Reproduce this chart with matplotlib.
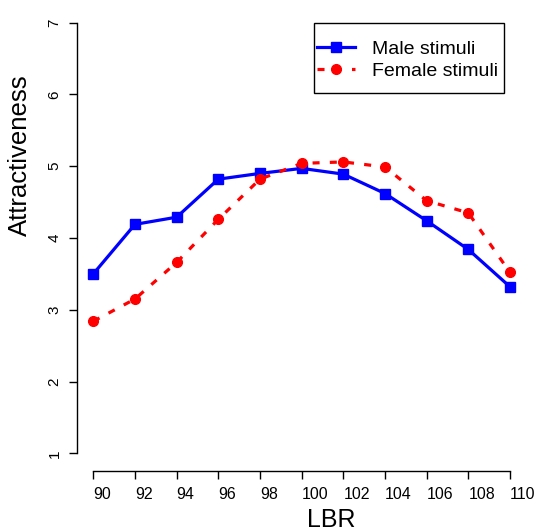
import numpy as np
import matplotlib
matplotlib.use("Agg")
import matplotlib.pyplot as plt
from matplotlib.patches import Rectangle

#-----------------------------------------------------------
# data
lbr = [90, 92, 94, 96, 98, 100, 102, 104, 106, 108, 110]
male = [3.50, 4.19, 4.29, 4.82, 4.90, 4.97, 4.89, 4.62, 4.24, 3.84, 3.32]
female = [2.84, 3.15, 3.66, 4.26, 4.82, 5.04, 5.06, 4.99, 4.52, 4.35, 3.52]
yticks = [1, 2, 3, 4, 5, 6, 7]

plt.rcParams['font.family'] = ['Liberation Sans', 'DejaVu Sans']

W, H = 539, 532
fig = plt.figure(figsize=(W / 100, H / 100), dpi=100)

# plot region in pixels
x0, x1 = 93.3, 510.0
y_top, y_bot = 22.7, 453.3
ax = fig.add_axes([x0 / W, (H - y_bot) / H, (x1 - x0) / W, (y_bot - y_top) / H])

ax.plot(lbr, male, color='#0000ff', lw=2.3, marker='s', ms=6.5,
        label='Male stimuli', clip_on=False, zorder=3)
ax.plot(lbr, female, color='#ff0000', lw=2.3, marker='o', ms=7,
        dashes=(2.2, 3.2), label='Female stimuli', clip_on=False, zorder=4)

ax.set_xlim(90, 110)
ax.set_ylim(1, 7)

# R style detached axes
for s in ['top', 'right']:
  ax.spines[s].set_visible(False)
ax.spines['left'].set_position(('outward', 16.6 * 0.72))
ax.spines['bottom'].set_position(('outward', 17.4 * 0.72))
ax.spines['left'].set_bounds(1, 7)
ax.spines['bottom'].set_bounds(90, 110)
ax.spines['left'].set_linewidth(1.0)
ax.spines['bottom'].set_linewidth(1.0)

ax.set_xticks(lbr)
ax.set_xticklabels([str(v) for v in lbr], ha='left', fontsize=11.5)
ax.set_yticks(yticks)
ax.set_yticklabels([str(v) for v in yticks], rotation=90, va='center', fontsize=11)
ax.tick_params(axis='both', length=5.5, width=1.0, color='black')
ax.tick_params(axis='x', pad=6.5)
ax.tick_params(axis='y', pad=5.5)

fig.text(20 / W, 1 - 155 / H, 'Attractiveness', rotation=90, ha='center',
         va='center', fontsize=18.5)
fig.text(331 / W, 1 - 527 / H, 'LBR', ha='center', va='baseline', fontsize=18)

# legend: entries without frame, box drawn separately (R style padding)
leg = ax.legend(loc='upper left', bbox_to_anchor=(316.7 / W, 1 - 40 / H),
                bbox_transform=fig.transFigure, frameon=False, fontsize=14,
                handlelength=1.96, borderpad=0, labelspacing=0.25,
                handletextpad=0.86, borderaxespad=0)
fig.patches.append(Rectangle((314 / W, 1 - 93.3 / H), 190 / W, 70 / H,
                             transform=fig.transFigure, fill=False,
                             edgecolor='black', lw=1.0))

fig.savefig('out.png', dpi=100)
